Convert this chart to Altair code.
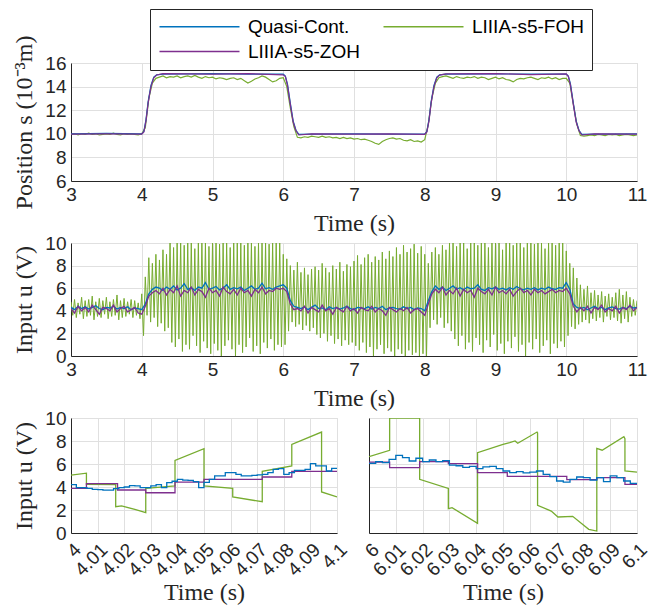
import altair as alt
import pandas as pd

# legend is filled column-wise: column 1 = Quasi-Cont., LIIIA-s5-ZOH ; column 2 = LIIIA-s5-FOH
SERIES = ["Quasi-Cont.", "LIIIA-s5-ZOH", "LIIIA-s5-FOH"]
COLORS = ["#0072BD", "#7E2F8E", "#77AC30"]
QC, ZOH, FOH = SERIES

# ---------------- top panel: position s (10^-3 m) ----------------
pos_quasi_t = [3.0, 3.5, 4.0, 4.03, 4.06, 4.09, 4.13, 4.17, 4.21, 4.3, 5.0, 5.5, 6.0, 6.03, 6.06, 6.1,
               6.14, 6.18, 6.22, 6.4, 7.0, 7.5, 8.0, 8.03, 8.06, 8.09, 8.13, 8.17, 8.21, 8.3, 9.0, 9.5,
               10.0, 10.03, 10.06, 10.1, 10.14, 10.18, 10.22, 10.4, 11.0]
pos_quasi_v = [10.0, 10.03, 10.0, 10.2, 11.2, 12.7, 14.1, 14.8, 15.0, 15.05, 15.1, 15.05, 15.05, 14.9,
               14.2, 12.6, 11.1, 10.3, 9.95, 9.98, 10.0, 9.98, 9.98, 10.2, 11.2, 12.7, 14.1, 14.8, 15.0,
               15.05, 15.08, 15.05, 15.05, 14.9, 14.2, 12.6, 11.1, 10.3, 9.95, 9.98, 10.0]
pos_zoh_v = [9.98, 10.0, 9.98, 10.15, 11.1, 12.6, 14.0, 14.75, 14.98, 15.1, 15.05, 15.1, 15.0, 14.85,
             14.1, 12.5, 11.0, 10.25, 9.9, 10.0, 9.97, 10.0, 9.96, 10.15, 11.1, 12.6, 14.0, 14.75, 14.98,
             15.08, 15.1, 15.02, 15.08, 14.85, 14.1, 12.5, 11.0, 10.25, 9.9, 10.0, 9.98]
# FOH position, one value every 0.05 s from 3.00 s to 11.00 s
pos_foh_v = [9.95, 10.0, 9.9, 10.0, 9.95, 10.05, 9.95, 10.0, 9.9, 9.95, 10.0, 9.95, 10.05, 9.95, 9.9,
             10.0, 9.95, 10.0, 9.95, 9.9,
             10.0, 10.5, 13.0, 14.3, 14.7,
             14.8, 14.9, 14.75, 14.85, 14.8, 14.9, 14.75, 14.85, 14.9, 14.8, 14.95, 14.8, 14.7, 14.85,
             14.75, 14.8, 14.65, 14.75, 14.7, 14.6, 14.7, 14.75, 14.6, 14.7, 14.5, 14.3, 14.45, 14.65,
             14.75, 14.9, 14.8, 14.6, 14.4, 14.5, 14.7,
             14.75, 14.0, 12.2, 10.6, 9.7,
             9.65, 9.75, 9.7, 9.8, 9.75, 9.7, 9.8, 9.7, 9.75, 9.65, 9.7, 9.6, 9.7, 9.6, 9.65, 9.55, 9.6,
             9.5, 9.55, 9.45, 9.35, 9.2, 9.1, 9.35, 9.5, 9.6, 9.65, 9.55, 9.6, 9.45, 9.4, 9.5, 9.35, 9.4,
             9.3,
             9.5, 10.8, 13.0, 14.3, 14.75,
             14.85, 14.9, 14.8, 14.7, 14.85, 14.75, 14.7, 14.8, 14.75, 14.85, 14.7, 14.8, 14.75, 14.6,
             14.7, 14.8, 14.65, 14.75, 14.6, 14.55, 14.4, 14.6, 14.7, 14.65, 14.75, 14.8, 14.7, 14.6,
             14.75, 14.7, 14.8, 14.65, 14.75, 14.6, 14.7,
             14.7, 14.3, 12.5, 10.8, 9.85,
             9.8, 9.85, 9.9, 9.85, 9.95, 9.9, 9.85, 9.95, 9.9, 9.95, 9.85, 9.9, 9.95, 9.9, 9.85, 9.9]

# ---------------- middle panel: input u (V), one value every 0.05 s ----------------
u_quasi_v = [4.3, 4.1, 4.4, 4.2, 4.35, 4.15, 4.3, 4.45, 4.2, 4.1, 4.3, 4.25, 4.4, 4.15, 4.3, 4.2, 4.35,
             4.1, 4.25, 4.2,
             4.1, 4.6, 5.5, 5.9, 6.1,
             6.0, 5.8, 6.1, 5.9, 6.2, 5.85, 6.0, 6.4, 5.9, 6.05, 5.8, 6.1, 6.0, 6.5, 5.9, 6.0, 6.15,
             5.85, 6.0, 6.3, 5.9, 6.05, 5.95, 6.1, 5.8, 6.0, 6.2, 5.9, 6.0, 6.45, 5.95, 6.05, 5.9, 6.1,
             6.2,
             6.3, 6.0, 4.9, 4.4, 4.3,
             4.2, 4.35, 4.1, 4.3, 4.5, 4.2, 4.25, 4.1, 4.35, 4.2, 4.3, 4.15, 4.25, 4.4, 4.2, 4.1, 4.3,
             4.25, 4.2, 4.35, 4.15, 4.3, 4.2, 4.4, 4.1, 4.25, 4.3, 4.2, 4.15, 4.35, 4.2, 4.3, 4.1, 4.25,
             4.2,
             4.0, 4.9, 5.7, 6.2, 5.9,
             6.1, 5.8, 6.0, 6.2, 5.9, 6.05, 5.85, 6.1, 5.95, 6.0, 6.3, 5.9, 5.8, 6.05, 5.95, 6.1, 5.9,
             6.0, 5.85, 6.05, 5.9, 6.15, 5.95, 5.85, 6.0, 5.9, 6.05, 5.85, 6.0, 5.9, 6.1, 5.95, 5.9,
             6.05, 6.0,
             6.5, 5.9, 4.6, 4.3, 4.2,
             4.3, 4.1, 4.25, 4.4, 4.2, 4.3, 4.1, 4.25, 4.35, 4.2, 4.15, 4.3, 4.2, 4.4, 4.25, 4.3]
u_zoh_v = [4.2, 3.8, 4.4, 4.0, 4.3, 3.9, 4.5, 4.1, 3.7, 4.3, 4.2, 4.0, 4.5, 3.9, 4.2, 4.4, 3.9, 4.1,
           4.3, 3.8,
           3.7, 4.4, 5.3, 5.6, 5.8,
           5.5, 6.0, 5.4, 5.9, 5.6, 6.2, 5.3, 5.8, 5.6, 6.1, 5.4, 5.9, 5.7, 5.2, 6.0, 5.6, 5.8, 5.3,
           6.1, 5.7, 5.5, 5.9, 5.4, 6.0, 5.6, 5.8, 5.3, 5.9, 5.6, 6.1, 5.5, 5.8, 5.7, 6.0, 5.9,
           6.0, 5.7, 4.6, 4.1, 4.2,
           4.0, 4.4, 3.8, 4.3, 4.1, 3.9, 4.5, 4.0, 4.2, 3.7, 4.3, 4.1, 3.9, 4.4, 4.0, 4.2, 3.8, 4.3,
           4.1, 4.0, 4.4, 3.9, 4.2, 4.0, 3.6, 4.3, 4.1, 3.9, 4.2, 4.0, 4.3, 3.8, 4.1, 4.2, 3.9,
           3.6, 4.6, 5.5, 5.9, 5.6,
           6.1, 5.4, 5.8, 5.5, 6.0, 5.3, 5.9, 5.6, 5.8, 5.2, 6.0, 5.7, 5.5, 5.9, 5.4, 6.1, 5.6, 5.8,
           5.5, 5.9, 5.3, 5.7, 6.0, 5.6, 5.8, 5.4, 5.9, 5.6, 5.8, 5.5, 5.7, 5.9, 5.6, 5.8, 5.7,
           6.0, 5.5, 4.4, 3.9, 4.3,
           4.0, 4.4, 3.8, 4.3, 4.1, 4.5, 3.9, 4.2, 4.0, 4.4, 3.8, 4.3, 4.1, 4.5, 4.0, 4.3]
# FOH input: oscillation peaks (at 3.00 + 0.05 i) and troughs (at 3.025 + 0.05 i)
u_foh_hi = [4.8, 5.0, 4.7, 5.2, 4.9, 5.0, 5.3, 4.8, 5.1, 4.9, 5.2, 4.8, 5.0, 5.4, 4.9, 5.1, 4.8, 5.0,
            4.9, 4.7,
            5.5, 7.0, 8.7, 8.2, 9.0, 8.5, 9.4, 9.0,
            10, 9.6, 10, 10, 9.8, 10, 10, 9.5, 10, 10, 10, 9.7, 10, 10, 9.9, 10, 10, 9.6, 10, 10, 10,
            9.8, 10, 10, 9.7, 10, 10, 10, 9.9, 10, 10, 10,
            9.0, 8.6,
            8.0, 7.6, 8.3, 7.4, 7.8, 7.2, 7.7, 7.9,
            7.6, 8.2, 7.8, 7.4, 8.0, 7.7, 8.3, 7.5, 8.1, 7.9,
            8.4, 8.9, 8.1, 8.7, 9.0, 8.3, 8.8, 8.5, 9.2, 8.6,
            9.3, 8.8, 9.6, 9.0, 9.8, 9.2, 9.5, 9.9, 9.1, 9.7,
            9.0, 8.2,
            9.2, 9.6, 9.0, 9.8, 9.4, 10,
            10, 9.7, 10, 10, 9.5, 10, 10, 9.8, 10, 10, 9.6, 10, 10, 10, 9.4, 10, 10, 9.8, 10, 10,
            9.6, 10, 10, 9.9, 10, 10, 9.5, 10, 10, 9.8, 10, 10,
            9.3, 8.2,
            7.8, 6.9, 6.3, 5.9, 6.2, 5.6, 5.8, 5.4, 5.7, 5.3, 5.5, 5.2, 5.6, 5.9, 5.4, 5.7, 5.2, 5.0,
            4.9]
u_foh_lo = [3.6, 3.4, 3.7, 3.3, 3.5, 3.6, 3.2, 3.5, 3.4, 3.7, 3.3, 3.5, 3.6, 3.2, 3.4, 3.5, 3.7, 3.4,
            3.6, 3.3,
            1.8, 3.6, 3.0, 3.4, 2.6, 2.9, 2.2, 2.5,
            1.2, 0.8, 1.5, 0.4, 1.0, 0.6, 1.8, 0.9, 0.3, 1.3, 0.7, 0.2, 1.1, 0.5, 0.0, 0.9, 1.4, 0.6,
            0.0, 1.0, 0.3, 0.8, 1.6, 0.4, 0.9, 0.2, 1.2, 0.7, 1.5, 0.5, 1.0, 0.8,
            1.0, 2.2,
            3.0, 2.6, 2.8, 2.3, 2.7, 2.2, 2.5, 1.9,
            1.6, 2.0, 1.3, 1.8, 1.1, 1.5, 0.9, 1.4, 1.0, 1.2,
            0.9, 0.5, 1.2, 0.3, 0.8, 0.0, 0.6, 1.0, 0.2, 0.7,
            0.4, 0.0, 0.6, 0.2, 0.0, 0.5, 0.1, 0.3, 0.0, 0.2,
            0.0, 2.5,
            3.2, 2.8, 3.4, 2.5, 2.9, 2.2,
            1.5, 0.9, 1.8, 0.6, 1.2, 0.4, 1.6, 1.0, 0.3, 1.4, 0.8, 1.9, 0.5, 1.1, 0.2, 1.3, 0.7, 1.7,
            0.4, 1.0, 0.0, 1.2, 0.6, 1.5, 0.3, 0.9, 1.4, 0.2, 1.1, 0.7, 1.3, 0.8,
            1.8, 2.6,
            2.4, 2.8, 3.0, 3.2, 2.9, 3.3, 3.1, 3.4, 3.0, 3.5, 3.2, 3.4, 3.1, 2.9, 3.3, 3.0, 3.5, 3.6]

# ---------------- bottom-left zoom 4.0 .. 4.1 s ----------------
bl_quasi_v = [4.2, 3.95, 3.95, 3.88, 3.8, 3.77, 3.72, 3.72, 3.86, 3.95, 4.0, 4.12, 4.1, 3.94, 3.94,
              4.09, 4.2, 3.94, 4.38, 4.5, 4.67, 4.6, 4.58, 4.46, 3.95, 4.4, 4.67, 4.96, 4.96, 5.25,
              5.25, 5.1, 4.96, 4.96, 5.01, 5.05, 5.1, 5.25, 5.54, 5.6, 5.1, 5.25, 5.45, 5.45, 5.54,
              6.03, 5.83, 5.83, 5.39, 5.62, 5.68]          # every 0.002 s
bl_zoh_t = [4.0, 4.0058, 4.0175, 4.0281, 4.0391, 4.05, 4.0719, 4.083, 4.1]
bl_zoh_v = [3.88, 4.29, 3.74, 3.5, 4.43, 4.67, 4.87, 5.36, 5.36]
bl_foh_t = [4.0, 4.0058, 4.0058, 4.0168, 4.0168, 4.019, 4.024, 4.0281, 4.0281, 4.0391, 4.0391, 4.05,
            4.05, 4.0608, 4.0608, 4.0719, 4.0719, 4.083, 4.083, 4.0942, 4.0942, 4.1]
bl_foh_v = [5.04, 5.2, 4.23, 4.2, 2.29, 2.35, 2.05, 1.77, 3.88, 4.09, 6.32, 7.33, 4.09, 3.88, 3.13,
            2.72, 5.36, 5.83, 7.71, 8.78, 3.57, 3.13]

# ---------------- bottom-right zoom 6.0 .. 6.1 s ----------------
br_quasi_v = [6.06, 6.2, 6.12, 6.41, 6.75, 6.55, 6.26, 6.5, 6.2, 6.35, 6.2, 6.3, 5.9, 5.85, 5.7, 5.8,
              5.6, 5.75, 5.8, 5.6, 5.39, 5.25, 5.33, 5.22, 5.3, 5.39, 5.1, 4.9, 4.52, 4.43, 4.67,
              4.87, 4.81, 4.6, 4.81, 4.46, 4.96, 4.81, 4.52, 4.32, 4.32]   # every 0.0025 s
br_zoh_t = [6.0, 6.0077, 6.0189, 6.0296, 6.0405, 6.0516, 6.0738, 6.085, 6.0955, 6.1]
br_zoh_v = [6.17, 5.68, 6.2, 6.03, 5.25, 4.93, 4.64, 4.81, 4.23, 4.23]
br_foh_t = [6.0, 6.0077, 6.0077, 6.0189, 6.0189, 6.0296, 6.0296, 6.031, 6.0405, 6.0405, 6.05, 6.0525,
            6.0545, 6.0555, 6.0627, 6.0629, 6.0629, 6.068, 6.0705, 6.076, 6.082, 6.085, 6.085, 6.087,
            6.0951, 6.0955, 6.0955, 6.1]
br_foh_v = [6.64, 7.19, 10.0, 10.0, 4.67, 3.88, 2.12, 2.2, 0.84, 6.99, 7.71, 7.85, 8.0, 7.8, 8.78, 8.7,
            2.41, 1.91, 1.39, 1.45, 0.32, 0.17, 7.36, 7.2, 8.38, 8.2, 5.39, 5.3]

# ---------------- tables ----------------
grid05 = [round(3.0 + 0.05 * i, 3) for i in range(161)]


def frame(ts, vs, name):
    assert len(ts) == len(vs), (name, len(ts), len(vs))
    return pd.DataFrame({"t": ts, "v": vs, "series": name, "i": list(range(len(ts)))})


foh_u_t, foh_u_v = [], []
for k, lo in enumerate(u_foh_lo):
    foh_u_t += [round(3.0 + 0.05 * k, 3), round(3.025 + 0.05 * k, 3)]
    foh_u_v += [u_foh_hi[k], lo]
foh_u_t.append(11.0)
foh_u_v.append(u_foh_hi[-1])

top_dfs = [frame(grid05, pos_foh_v, FOH), frame(pos_quasi_t, pos_quasi_v, QC),
           frame(pos_quasi_t, pos_zoh_v, ZOH)]
mid_dfs = [frame(foh_u_t, foh_u_v, FOH), frame(grid05, u_quasi_v, QC),
           frame(grid05, u_zoh_v, ZOH)]
bl_dfs = [frame(bl_foh_t, bl_foh_v, FOH), frame(bl_zoh_t, bl_zoh_v, ZOH),
          frame([round(4.0 + 0.002 * i, 4) for i in range(51)], bl_quasi_v, QC)]
br_dfs = [frame(br_foh_t, br_foh_v, FOH), frame(br_zoh_t, br_zoh_v, ZOH),
          frame([round(6.0 + 0.0025 * i, 4) for i in range(41)], br_quasi_v, QC)]

legend = alt.Legend(title=None, orient="none", legendX=79, legendY=-54, columns=2,
                    symbolType="M-1,0H9", symbolSize=256, symbolStrokeWidth=1.5,
                    labelOffset=71, labelFont="Liberation Sans", labelFontSize=19,
                    labelColor="black", strokeColor="#262626", fillColor="white",
                    padding=8, rowPadding=5, columnPadding=20)
color = alt.Color("series:N", scale=alt.Scale(domain=SERIES, range=COLORS), legend=legend)


def x_axis(values, title, rotated=False, fmt="d"):
    if rotated:
        return alt.Axis(values=values, title=title, format=fmt, labelAngle=-45, labelAlign="right",
                        labelBaseline="top", labelPadding=7, minExtent=40, maxExtent=40,
                        titlePadding=7, labelOverlap=False, labelFlush=False)
    return alt.Axis(values=values, title=title, format=fmt, labelPadding=4, minExtent=22,
                    maxExtent=22, titlePadding=8, labelOverlap=False, labelFlush=False)


def y_axis(values, title, labels=True):
    if labels:
        return alt.Axis(values=values, title=title, labelPadding=5, minExtent=26, maxExtent=26,
                        titlePadding=9, labelFlush=False, labelOverlap=False)
    return alt.Axis(values=values, title=None, labels=False, minExtent=0, maxExtent=0)


def panel(dfs, xdom, ydom, xax, yax, widths, interps, w, h):
    layers = []
    for df, sw, ip in zip(dfs, widths, interps):
        layers.append(
            alt.Chart(df).mark_line(strokeWidth=sw, clip=True, interpolate=ip).encode(
                x=alt.X("t:Q", scale=alt.Scale(domain=xdom, nice=False, zero=False), axis=xax),
                y=alt.Y("v:Q", scale=alt.Scale(domain=ydom, nice=False, zero=False), axis=yax),
                color=color,
                order="i:Q",
            )
        )
    return alt.layer(*layers).properties(width=w, height=h)


secs = list(range(3, 12))
top = panel(top_dfs, [3, 11], [6, 16], x_axis(secs, "Time (s)"),
            y_axis([6, 8, 10, 12, 14, 16], "Position s (10⁻³m)"),
            [1.2, 1.2, 1.2], ["linear"] * 3, 566, 118)
mid = panel(mid_dfs, [3, 11], [0, 10], x_axis(secs, "Time (s)"),
            y_axis([0, 2, 4, 6, 8, 10], "Input u (V)"),
            [1.0, 1.3, 1.3], ["linear"] * 3, 566, 113)
bl = panel(bl_dfs, [4.0, 4.1], [0, 10],
           x_axis([round(4.0 + 0.01 * k, 2) for k in range(11)], "Time (s)", True, ".2~f"),
           y_axis([0, 2, 4, 6, 8, 10], "Input u (V)"),
           [1.3, 1.3, 1.3], ["linear", "step-after", "step-after"], 266, 115)
br = panel(br_dfs, [6.0, 6.1], [0, 10],
           x_axis([round(6.0 + 0.01 * k, 2) for k in range(11)], "Time (s)", True, ".2~f"),
           y_axis([0, 2, 4, 6, 8, 10], None, labels=False),
           [1.3, 1.3, 1.3], ["linear", "step-after", "step-after"], 268, 115)

bottom = alt.hconcat(bl, br, spacing=32, bounds="flush")
chart = (
    alt.vconcat(top, mid, bottom, spacing=62, bounds="flush")
    .properties(padding={"left": 3, "top": 0, "right": 5, "bottom": 0}, background="white")
    .configure_view(stroke="#d9d9d9")
    .configure_axis(domainColor="#262626", domainWidth=1, labelColor="#262626",
                    labelFont="Liberation Sans", labelFontSize=19, titleFont="Liberation Serif",
                    titleFontSize=24, titleFontWeight="normal", titleColor="#262626",
                    gridColor="#e0e0e0", gridWidth=1, ticks=False)
)
chart.save("out.html", embed_options={"renderer": "svg", "actions": False})
